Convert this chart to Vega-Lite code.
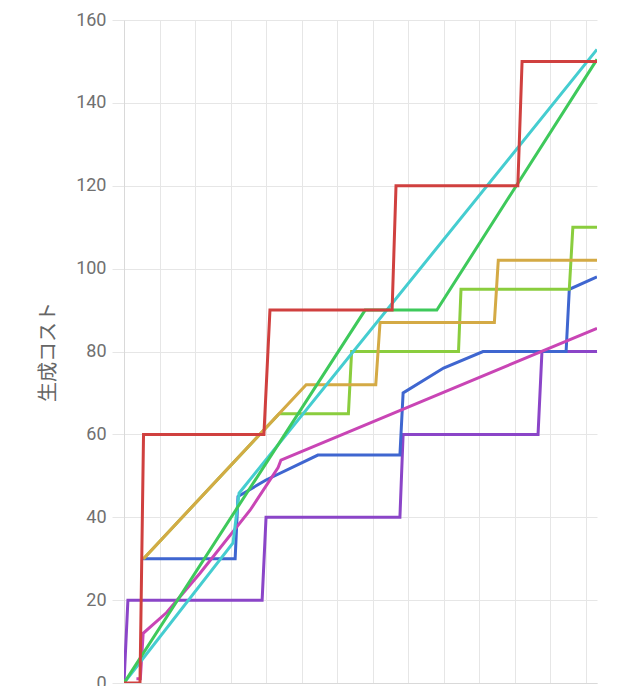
{
  "$schema": "https://vega.github.io/schema/vega-lite/v6.json",
  "autosize": "none",
  "padding": {"left": 124, "top": 20, "right": 43, "bottom": 3},
  "width": 473,
  "height": 663,
  "background": "#ffffff",
  "config": {
    "view": {"stroke": null},
    "font": "Roboto",
    "axis": {"gridColor": "#e6e6e6", "domainColor": "#d9d9d9", "tickColor": "#e6e6e6"}
  },
  "data": {
    "values": [
      {"s": "A", "x": 0, "y": 0}, {"s": "A", "x": 1.1, "y": 20}, {"s": "A", "x": 38.9, "y": 20}, {"s": "A", "x": 40, "y": 40},
      {"s": "A", "x": 77.7, "y": 40}, {"s": "A", "x": 78.6, "y": 60}, {"s": "A", "x": 116.6, "y": 60}, {"s": "A", "x": 117.7, "y": 80},
      {"s": "A", "x": 133.2, "y": 80},
      {"s": "B", "x": 5.4, "y": 30}, {"s": "B", "x": 31.3, "y": 30}, {"s": "B", "x": 32.1, "y": 45}, {"s": "B", "x": 40, "y": 49},
      {"s": "B", "x": 54.6, "y": 55}, {"s": "B", "x": 77.7, "y": 55}, {"s": "B", "x": 78.6, "y": 70}, {"s": "B", "x": 90, "y": 76},
      {"s": "B", "x": 101.1, "y": 80}, {"s": "B", "x": 124.5, "y": 80}, {"s": "B", "x": 125.4, "y": 95}, {"s": "B", "x": 133.2, "y": 98},
      {"s": "C", "x": 3.5, "y": 1}, {"s": "C", "x": 4.6, "y": 1}, {"s": "C", "x": 5.4, "y": 12}, {"s": "C", "x": 12, "y": 17},
      {"s": "C", "x": 21.4, "y": 26.5}, {"s": "C", "x": 35.5, "y": 41.7}, {"s": "C", "x": 43.4, "y": 52}, {"s": "C", "x": 44.2, "y": 53.8},
      {"s": "C", "x": 133.2, "y": 85.6},
      {"s": "D", "x": 5.5, "y": 30}, {"s": "D", "x": 43.7, "y": 65}, {"s": "D", "x": 63.2, "y": 65}, {"s": "D", "x": 64.1, "y": 80},
      {"s": "D", "x": 94.2, "y": 80}, {"s": "D", "x": 94.9, "y": 95}, {"s": "D", "x": 125.4, "y": 95}, {"s": "D", "x": 126.4, "y": 110},
      {"s": "D", "x": 133.2, "y": 110},
      {"s": "E", "x": 5.5, "y": 30}, {"s": "E", "x": 51.3, "y": 72}, {"s": "E", "x": 70.9, "y": 72}, {"s": "E", "x": 72.1, "y": 87},
      {"s": "E", "x": 104.3, "y": 87}, {"s": "E", "x": 105.4, "y": 102}, {"s": "E", "x": 133.2, "y": 102},
      {"s": "F", "x": 0, "y": 0}, {"s": "F", "x": 30.7, "y": 33.8}, {"s": "F", "x": 32.4, "y": 45.8}, {"s": "F", "x": 133.2, "y": 152.9},
      {"s": "G", "x": 0, "y": 0}, {"s": "G", "x": 67.9, "y": 90}, {"s": "G", "x": 88.1, "y": 90}, {"s": "G", "x": 133.2, "y": 150.5},
      {"s": "H", "x": 0, "y": 0}, {"s": "H", "x": 4.5, "y": 0}, {"s": "H", "x": 5.5, "y": 60}, {"s": "H", "x": 39.4, "y": 60},
      {"s": "H", "x": 41.1, "y": 90}, {"s": "H", "x": 75.5, "y": 90}, {"s": "H", "x": 76.6, "y": 120}, {"s": "H", "x": 110.9, "y": 120},
      {"s": "H", "x": 112.1, "y": 150}, {"s": "H", "x": 133.2, "y": 150}
    ]
  },
  "mark": {"type": "line", "strokeWidth": 3, "clip": true},
  "encoding": {
    "x": {
      "field": "x",
      "type": "quantitative",
      "scale": {"domain": [0, 133.2], "nice": false, "zero": true},
      "axis": {
        "values": [0, 10, 20, 30, 40, 50, 60, 70, 80, 90, 100, 110, 120, 130],
        "labels": false,
        "ticks": false,
        "title": null,
        "grid": true
      }
    },
    "y": {
      "field": "y",
      "type": "quantitative",
      "scale": {"domain": [0, 160], "nice": false},
      "axis": {
        "values": [0, 20, 40, 60, 80, 100, 120, 140, 160],
        "title": "生成コスト",
        "titleFont": "Noto Sans CJK JP",
        "titleFontSize": 20,
        "titleFontWeight": "normal",
        "titleColor": "#666666",
        "titlePadding": 17,
        "labelFontSize": 18,
        "labelColor": "#707070",
        "labelPadding": 6,
        "tickSize": 12,
        "domain": true,
        "grid": true
      }
    },
    "color": {
      "field": "s",
      "type": "nominal",
      "legend": null,
      "scale": {
        "domain": ["A", "B", "C", "D", "E", "F", "G", "H"],
        "range": ["#8b45c8", "#3f66d0", "#c945b5", "#8acd3e", "#d4aa45", "#45cdd0", "#3ec95b", "#d0403f"]
      }
    }
  }
}
